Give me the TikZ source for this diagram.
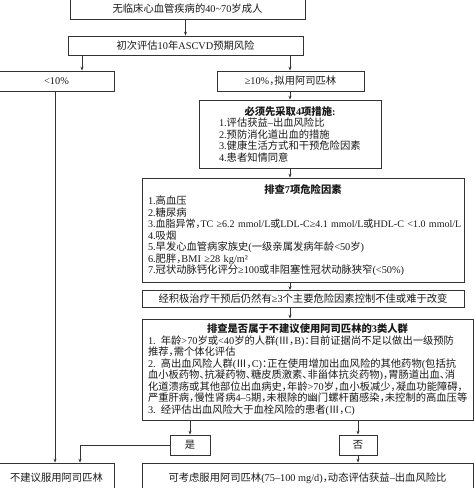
\documentclass[tikz,border=0pt]{standalone}
\usepackage{fontspec}
\setmainfont{Liberation Serif}
\newfontfamily\cjk{Noto Sans CJK SC}
\usetikzlibrary{arrows.meta}
\XeTeXinterchartokenstate=1
\newXeTeXintercharclass\CJKcls
\newcount\mycc
\def\setcjkrange#1#2{\mycc=#1\relax
  \loop\XeTeXcharclass\mycc=\CJKcls\relax
  \advance\mycc by 1\relax
  \ifnum\mycc<#2\repeat}
\setcjkrange{"4E00}{"A000}
\setcjkrange{"3000}{"3040}
\setcjkrange{"FF00}{"FFF0}
\setcjkrange{"2160}{"2170}
\XeTeXinterchartoks 0 \CJKcls = {\cjk}
\XeTeXinterchartoks 4095 \CJKcls = {\cjk}
\XeTeXinterchartoks \CJKcls 0 = {\rmfamily}
\XeTeXinterchartoks 4095 0 = {\rmfamily}
\newcommand\dou{{\cjk\makebox[0.5em][l]{，}}}
\newcommand\dun{{\cjk\makebox[0.5em][l]{、}}}
\newcommand\mao{{\cjk\makebox[0.5em][l]{：}}}
\begin{document}
\begin{tikzpicture}[x=1pt,y=-1pt,
  box/.style={draw=black!80, line width=0.7pt, inner sep=0pt, text=black!90,
    font=\fontsize{10.3}{11.5}\selectfont},
  arr/.style={-{Stealth[length=4pt,width=3pt]}, line width=0.7pt, draw=black!80}]
\useasboundingbox (0,0) rectangle (474,488);
\clip (0,0) rectangle (474,488);
\node[box, minimum width=235pt, minimum height=20pt] (b1) at (187.5,9) {无临床心血管疾病的40\textasciitilde70岁成人};
\node[box, minimum width=235pt, minimum height=19pt] (b2) at (185.5,45.5) {初次评估10年ASCVD预期风险};
\node[box, minimum width=115pt, minimum height=20pt] (b3) at (56.5,81) {<10\%};
\node[box, minimum width=147pt, minimum height=20pt] (b4) at (290.5,81) {≥10\%\dou{}拟用阿司匹林};
\node[box, minimum width=182pt, minimum height=68pt, text width=142pt, inner xsep=20pt, align=left] (b5) at (290,134)
  {{\centering\bfseries 必须先采取4项措施:\par}1.评估获益–出血风险比\\2.预防消化道出血的措施\\3.健康生活方式和干预危险因素\\4.患者知情同意};
\node[box, minimum width=322pt, minimum height=104pt, text width=310pt, inner xsep=6pt, align=left] (b6) at (303,230)
  {{\centering\bfseries 排查7项危险因素\par}1.高血压\\2.糖尿病\\\mbox{\fontsize{10}{11.5}\selectfont 3.血脂异常\dou{}TC ≥6.2 mmol/L或LDL-C≥4.1 mmol/L或HDL-C <1.0 mmol/L}\\4.吸烟\\5.早发心血管病家族史(一级亲属发病年龄<50岁)\\6.肥胖\dou{}BMI ≥28 kg/m²\\7.冠状动脉钙化评分≥100或非阻塞性冠状动脉狭窄(<50\%)};
\node[box, minimum width=322pt, minimum height=17pt] (b7) at (303,299) {经积极治疗干预后仍然有≥3个主要危险因素控制不佳或难于改变};
\node[box, minimum width=331pt, minimum height=101.5pt, text width=319pt, inner xsep=6pt, align=left] (b8) at (307.5,369.75)
  {{\centering\bfseries 排查是否属于不建议使用阿司匹林的3类人群\par}1. 年龄>70岁或<40岁的人群(Ⅲ\dou{}B)\mao{}目前证据尚不足以做出一级预防\\推荐\dou{}需个体化评估\\2. 高出血风险人群(Ⅲ\dou{}C)\mao{}正在使用增加出血风险的其他药物(包括抗\\血小板药物\dun{}抗凝药物\dun{}糖皮质激素\dun{}非甾体抗炎药物)\dou{}胃肠道出血\dun{}消\\化道溃疡或其他部位出血病史\dou{}年龄>70岁\dou{}血小板减少\dou{}凝血功能障碍\dou\\严重肝病\dou{}慢性肾病4–5期\dou{}未根除的幽门螺杆菌感染\dou{}未控制的高血压等\\3. 经评估出血风险大于血栓风险的患者(Ⅲ\dou{}C)};
\node[box, minimum width=40pt, minimum height=20pt] (yes) at (190,445) {是};
\node[box, minimum width=38pt, minimum height=20pt] (no) at (358,445) {否};
\node[box, minimum width=115pt, minimum height=30pt] (b9) at (56.5,478) {不建议服用阿司匹林};
\node[box, minimum width=331pt, minimum height=30pt] (b10) at (307.5,478) {可考虑服用阿司匹林(75–100 mg/d)\dou{}动态评估获益–出血风险比};
\coordinate (cL) at (82,0);
\coordinate (cA) at (55,0);
\coordinate (cY) at (80,0);
\coordinate (cM) at (290,0);
\draw[arr] (b1.south -| b2.north) -- (b2.north);
\draw[arr] (b2.south -| cL) -- (b3.north -| cL);
\draw[arr] (b2.south -| cM) -- (b4.north -| cM);
\draw[arr] (b4.south -| cM) -- (b5.north -| cM);
\draw[arr] (b5.south -| cM) -- (b6.north -| cM);
\draw[arr] (b6.south -| cM) -- (b7.north -| cM);
\draw[arr] (b7.south -| cM) -- (b8.north -| cM);
\draw[arr] (b8.south -| yes.north) -- (yes.north);
\draw[arr] (b8.south -| no.north) -- (no.north);
\draw[arr] (no.south) -- (no.south |- b10.north);
\draw[arr] (yes.west) -| (cY |- b9.north);
\draw[arr] (b3.south -| cA) -- (b9.north -| cA);
\end{tikzpicture}
\end{document}
